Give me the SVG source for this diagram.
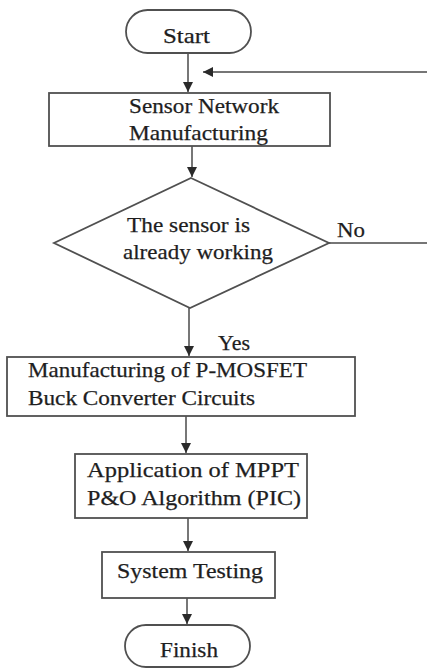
<svg xmlns="http://www.w3.org/2000/svg" width="427" height="668" viewBox="0 0 427 668">
  <defs>
    <marker id="arrow" markerUnits="userSpaceOnUse" markerWidth="10" markerHeight="12" viewBox="0 0 10 12" refX="10" refY="6" orient="auto">
      <path d="M0,1 L10,6 L0,11 Z" fill="#2a2a2a"/>
    </marker>
    <style>
      .shape { fill: #ffffff; stroke: #505050; stroke-width: 1.8; }
      .line { fill: none; stroke: #4a4a4a; stroke-width: 1.5; marker-end: url(#arrow); }
      .label { font-family: "Liberation Serif", "Times New Roman", serif; font-size: 22px; fill: #1e1e1e; stroke: #1e1e1e; stroke-width: 0.25; }
    </style>
  </defs>
  <rect width="427" height="668" fill="#ffffff"/>

  <g id="connectors">
    <line class="line" x1="188" y1="53" x2="188" y2="92"/>
    <path class="line" d="M329,243 H440 V72 H203"/>
    <line class="line" x1="192" y1="146" x2="192" y2="177"/>
    <line class="line" x1="189" y1="308" x2="189" y2="356"/>
    <line class="line" x1="186" y1="416" x2="186" y2="453"/>
    <line class="line" x1="188" y1="518" x2="188" y2="551"/>
    <line class="line" x1="187" y1="598" x2="187" y2="624"/>
  </g>

  <g id="start">
    <rect class="shape" x="126" y="10" width="125" height="43" rx="21.5"/>
    <text class="label" x="163" y="43" textLength="47" lengthAdjust="spacingAndGlyphs">Start</text>
  </g>

  <g id="sensor-network">
    <rect class="shape" x="49" y="93" width="281" height="53"/>
    <text class="label" x="129" y="113" textLength="150" lengthAdjust="spacingAndGlyphs">Sensor Network</text>
    <text class="label" x="129" y="140" textLength="139" lengthAdjust="spacingAndGlyphs">Manufacturing</text>
  </g>

  <g id="sensor-check">
    <polygon class="shape" points="191,178 329,243 190,308 54,243"/>
    <text class="label" x="127" y="232" textLength="123" lengthAdjust="spacingAndGlyphs">The sensor is</text>
    <text class="label" x="123" y="259" textLength="150" lengthAdjust="spacingAndGlyphs">already working</text>
  </g>

  <g id="label-no">
    <text class="label" x="337" y="237" textLength="28" lengthAdjust="spacingAndGlyphs">No</text>
  </g>

  <g id="label-yes">
    <text class="label" x="218" y="350" textLength="32" lengthAdjust="spacingAndGlyphs">Yes</text>
  </g>

  <g id="buck-converter">
    <rect class="shape" x="7" y="357" width="348" height="59"/>
    <text class="label" x="28" y="377" textLength="279" lengthAdjust="spacingAndGlyphs">Manufacturing of P-MOSFET</text>
    <text class="label" x="28" y="405" textLength="227" lengthAdjust="spacingAndGlyphs">Buck Converter Circuits</text>
  </g>

  <g id="mppt">
    <rect class="shape" x="75" y="454" width="232" height="64"/>
    <text class="label" x="87" y="477" textLength="212" lengthAdjust="spacingAndGlyphs">Application of MPPT</text>
    <text class="label" x="87" y="505" textLength="214" lengthAdjust="spacingAndGlyphs">P&amp;O Algorithm (PIC)</text>
  </g>

  <g id="system-testing">
    <rect class="shape" x="102" y="552" width="173" height="46"/>
    <text class="label" x="117" y="578" textLength="146" lengthAdjust="spacingAndGlyphs">System Testing</text>
  </g>

  <g id="finish">
    <rect class="shape" x="125" y="625" width="125" height="42" rx="21"/>
    <text class="label" x="160" y="657" textLength="58" lengthAdjust="spacingAndGlyphs">Finish</text>
  </g>
</svg>
